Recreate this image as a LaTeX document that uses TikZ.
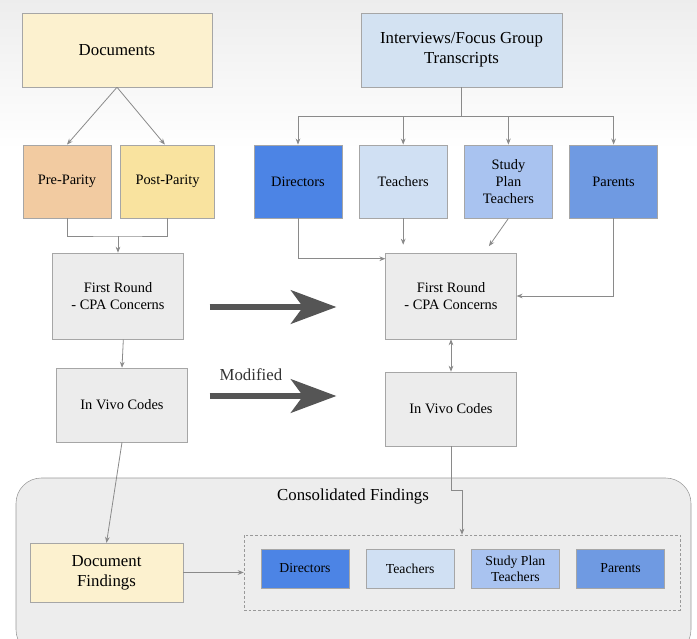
\documentclass[tikz,border=0pt]{standalone}
\usepackage{fontspec}
\setmainfont{Liberation Serif}
\usepackage{tikz}
\usetikzlibrary{positioning,arrows.meta}
\definecolor{docyellow}{HTML}{FCF1CF}
\definecolor{preorange}{HTML}{F2CBA1}
\definecolor{postyellow}{HTML}{F9E39F}
\definecolor{intvblue}{HTML}{D3E2F2}
\definecolor{dirblue}{HTML}{4C84E5}
\definecolor{teablue}{HTML}{D0E0F3}
\definecolor{sptblue}{HTML}{A9C3F0}
\definecolor{parblue}{HTML}{6F9AE2}
\definecolor{boxgray}{HTML}{ECECEC}
\definecolor{consgray}{HTML}{EDEDED}
\definecolor{linegray}{HTML}{8A8A8A}
\definecolor{arrowgray}{HTML}{555555}

\begin{document}
\begin{tikzpicture}[x=0.75pt, y=-0.75pt,
  box/.style={draw=black!35, align=center, font=\fontsize{10.8}{13}\selectfont, minimum width=66pt, minimum height=55pt, inner sep=2pt, fill=#1},
  box/.default=boxgray,
  bigfont/.style={font=\fontsize{12.6}{15}\selectfont},
  smallbox/.style={box=#1, minimum height=29pt, font=\fontsize{10.3}{12}\selectfont},
  conn/.style={draw=linegray, line width=0.6pt},
  bigarrow/.style={draw=arrowgray, line width=5pt, -{Stealth[length=34pt, width=25pt, inset=9pt]}},
  >={Stealth[length=4.5pt, width=3.5pt]}]
\useasboundingbox (0,0) rectangle (697,639);
\clip (0,0) rectangle (697,639);
\shade[top color=black!7, bottom color=white] (0,0) rectangle (697,150);

% document side
\node[box=docyellow, bigfont, minimum width=142.5pt, minimum height=55.5pt] (docs) at (117,50) {Documents};
\node[box=preorange] (pre) at (67,181.5) {Pre-Parity};
\node[box=postyellow, minimum width=70.5pt, right=6.75pt of pre] (post) {Post-Parity};
\node[box, minimum width=98pt, minimum height=64.5pt] (fr1) at (118,296) {First Round\\- CPA Concerns};
\node[box, minimum width=98pt, minimum height=55.5pt] (ivc1) at (122,405) {In Vivo Codes};

% interview side
\node[box=intvblue, bigfont, minimum width=150.75pt, minimum height=55.5pt] (intv) at (461.5,50) {Interviews/Focus Group\\Transcripts};
\node[box=dirblue] (dir) at (298,181.5) {Directors};
\node[box=teablue, right=12.5pt of dir] (tea) {Teachers};
\node[box=sptblue, right=12.5pt of tea] (spt) {Study\\Plan\\Teachers};
\node[box=parblue, right=12.5pt of spt] (par) {Parents};
\node[box, minimum width=98pt, minimum height=64.5pt] (fr2) at (451,296) {First Round\\- CPA Concerns};
\node[box, minimum width=98pt, minimum height=55.5pt] (ivc2) at (451,409) {In Vivo Codes};

% consolidated findings
\draw[draw=black!40, fill=consgray, rounded corners=19pt] (16,478) rectangle (691,655);
\node[bigfont] (ctitle) at (353,496) {Consolidated Findings};
\node[box=docyellow, bigfont, minimum width=115pt, minimum height=44pt] (docf) at (106.5,572.5) {Document\\Findings};
\node[draw=black!40, dash pattern=on 2pt off 1.5pt, minimum width=327pt, minimum height=56.25pt] (grp) at (462,572.5) {};
\node[smallbox=dirblue, anchor=west, right=12.75pt of grp.west, yshift=3pt] (sdir) {Directors};
\node[smallbox=teablue, right=12.5pt of sdir] (stea) {Teachers};
\node[smallbox=sptblue, right=12.5pt of stea] (sspt) {Study Plan\\Teachers};
\node[smallbox=parblue, right=12.5pt of sspt] (spar) {Parents};

% connectors
\draw[conn, ->] (docs.south) -- (pre.north);
\draw[conn, ->] (docs.south) -- ([xshift=-2pt]post.north);
\coordinate (brk) at (fr1.north |- 0,236);
\draw[conn] (pre.south) |- (brk) -| (post.south);
\draw[conn, ->] (brk) -- (fr1.north);
\draw[conn, ->] ([xshift=4pt]fr1.south) -- (ivc1.north);
\draw[conn, ->] (ivc1.south) -- (docf.north);
\coordinate (bus) at (intv.south |- 0,116);
\foreach \n in {dir, tea, spt, par} \draw[conn, ->] (intv.south) -- (bus) -| (\n.north);
\draw[conn, ->] (dir.south) |- ([yshift=-4.5pt]fr2.north west);
\draw[conn, ->, shorten >=6pt] (tea.south) -- (tea.south |- fr2.north);
\draw[conn, ->, shorten >=6pt] (spt.south) -- ([xshift=25pt]fr2.north);
\draw[conn, ->] (par.south) |- (fr2.east);
\draw[conn, <->] (fr2.south) -- (ivc2.north);
\draw[conn, ->] (ivc2.south) -- ++(0,44) -| (grp.north);
\draw[conn, ->] (docf.east) -- (grp.west);

% big arrows
\draw[bigarrow, shorten <=19.5pt, shorten >=36.75pt] ([yshift=-8.25pt]fr1.east) -- ([yshift=-8.25pt]fr2.west);
\draw[bigarrow, shorten <=16.5pt, shorten >=36.75pt] ([yshift=6.75pt]ivc1.east) -- ([yshift=6.75pt]ivc1.east -| ivc2.west)
  node[pos=0.32, above=6pt, bigfont, text=black!80] (mod) {Modified};
\end{tikzpicture}
\end{document}
